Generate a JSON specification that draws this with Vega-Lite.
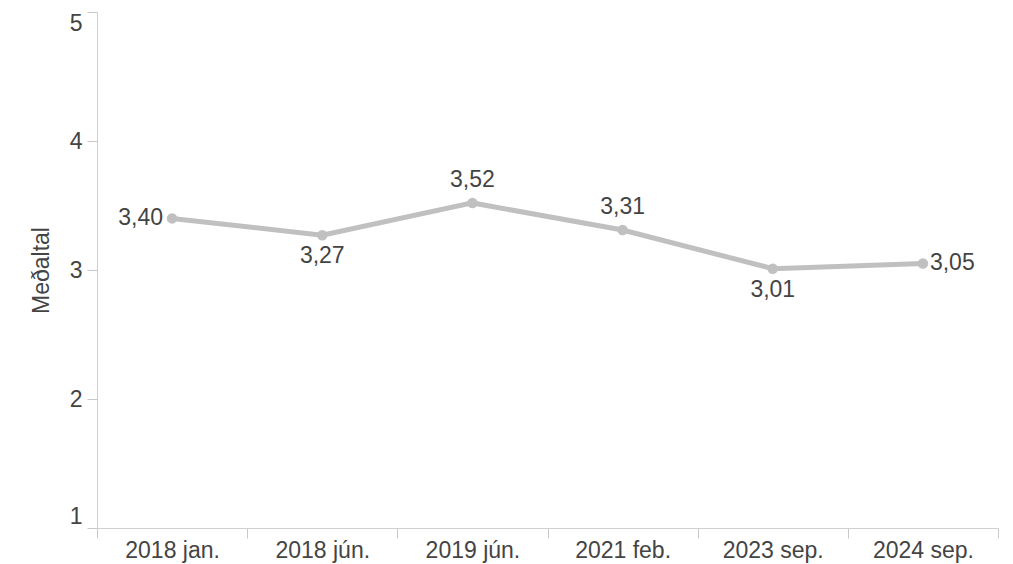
{
  "$schema": "https://vega.github.io/schema/vega-lite/v6.json",
  "width": 901,
  "height": 516,
  "autosize": "none",
  "padding": {"left": 97, "top": 12, "right": 15, "bottom": 36},
  "background": "white",
  "config": {
    "view": {"stroke": null},
    "font": "Liberation Sans",
    "axis": {
      "labelFont": "Liberation Sans",
      "titleFont": "Liberation Sans",
      "labelFontSize": 23,
      "titleFontSize": 23,
      "labelColor": "#444444",
      "titleColor": "#444444",
      "titleFontWeight": "normal",
      "domainColor": "#d0d0d0",
      "tickColor": "#c8c8c8",
      "tickSize": 10,
      "grid": false
    }
  },
  "data": {
    "values": [
      {"period": "2018 jan.", "value": 3.40, "label": "3,40"},
      {"period": "2018 jún.", "value": 3.27, "label": "3,27"},
      {"period": "2019 jún.", "value": 3.52, "label": "3,52"},
      {"period": "2021 feb.", "value": 3.31, "label": "3,31"},
      {"period": "2023 sep.", "value": 3.01, "label": "3,01"},
      {"period": "2024 sep.", "value": 3.05, "label": "3,05"}
    ]
  },
  "encoding": {
    "x": {
      "field": "period",
      "type": "ordinal",
      "sort": null,
      "scale": {"paddingInner": 0, "paddingOuter": 0},
      "axis": {"title": null, "labelAngle": 0, "labelPadding": 1, "tickBand": "extent"}
    },
    "y": {
      "field": "value",
      "type": "quantitative",
      "scale": {"domain": [1, 5], "nice": false, "zero": false},
      "axis": {"title": "Meðaltal", "values": [1, 2, 3, 4, 5], "labelPadding": 5, "titlePadding": 16, "labelFlush": true}
    }
  },
  "layer": [
    {"mark": {"type": "line", "color": "#c0c0c0", "strokeWidth": 5}},
    {"mark": {"type": "point", "filled": true, "color": "#c0c0c0", "size": 110, "opacity": 1}},
    {
      "transform": [{"filter": "datum.period == '2018 jan.'"}],
      "mark": {"type": "text", "align": "right", "baseline": "middle", "dx": -9, "fontSize": 23, "color": "#444444"},
      "encoding": {"text": {"field": "label"}}
    },
    {
      "transform": [{"filter": "datum.period == '2024 sep.'"}],
      "mark": {"type": "text", "align": "left", "baseline": "middle", "dx": 7, "dy": -1, "fontSize": 23, "color": "#444444"},
      "encoding": {"text": {"field": "label"}}
    },
    {
      "transform": [{"filter": "datum.period == '2019 jún.' || datum.period == '2021 feb.'"}],
      "mark": {"type": "text", "align": "center", "baseline": "alphabetic", "dy": -16, "fontSize": 23, "color": "#444444"},
      "encoding": {"text": {"field": "label"}}
    },
    {
      "transform": [{"filter": "datum.period == '2018 jún.' || datum.period == '2023 sep.'"}],
      "mark": {"type": "text", "align": "center", "baseline": "alphabetic", "dy": 28, "fontSize": 23, "color": "#444444"},
      "encoding": {"text": {"field": "label"}}
    }
  ]
}
